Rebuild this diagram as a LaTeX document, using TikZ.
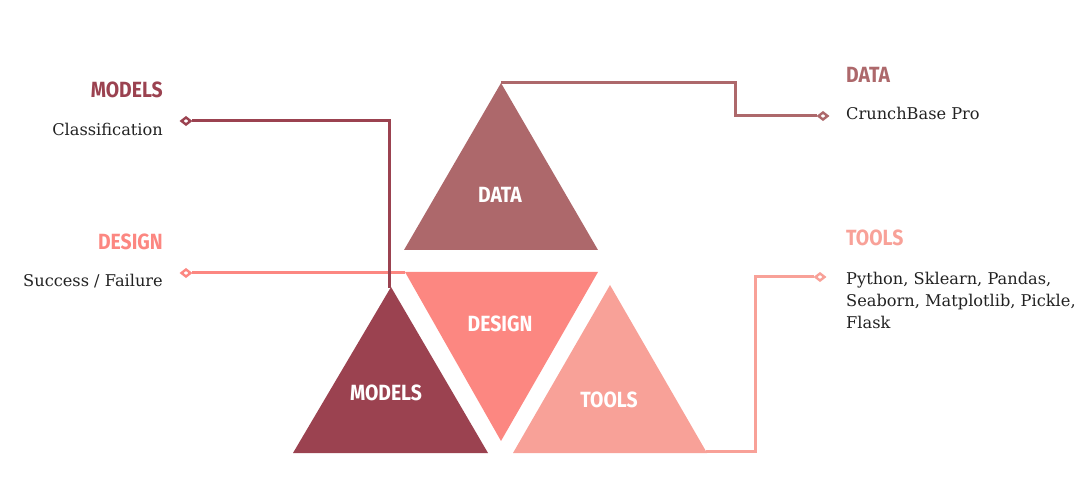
\documentclass[tikz,border=0pt]{standalone}
\usepackage{fontspec}
\setmainfont{DejaVu Serif}
\newfontfamily\hfont[FakeStretch=0.88]{Fira Sans}
\usetikzlibrary{shapes.geometric}
\definecolor{cmod}{HTML}{9B4250}
\definecolor{cdat}{HTML}{AD686B}
\definecolor{cdes}{HTML}{FC8781}
\definecolor{ctoo}{HTML}{F8A198}
\definecolor{ctxt}{HTML}{222222}
\tikzset{
  conn/.style={line width=3pt},
  endmark/.style={diamond, draw, fill=white, line width=2.4pt, inner sep=0pt, minimum width=10pt, minimum height=8pt},
  head/.style={font=\hfont\bfseries\fontsize{22}{26}\selectfont},
  tri/.style={font=\hfont\bfseries\fontsize{22}{26}\selectfont, text=white},
  body/.style={font=\fontsize{16.2}{22}\selectfont, text=ctxt, inner sep=0pt},
}
\begin{document}
\begin{tikzpicture}[x=1pt,y=-1pt]
\useasboundingbox (0,0) rectangle (1092,494);
% triangle corners
\coordinate (dA) at (501,83);  \coordinate (dL) at (404,250); \coordinate (dR) at (598,250);
\coordinate (eL) at (405,272); \coordinate (eR) at (598,272); \coordinate (eB) at (501,441);
\coordinate (mA) at (391,287); \coordinate (mL) at (293,453); \coordinate (mR) at (488,453);
\coordinate (tA) at (610,285); \coordinate (tL) at (513,453); \coordinate (tR) at (707,453);
\fill[cdat] (dA) -- (dL) -- (dR) -- cycle;
\fill[cdes] (eL) -- (eR) -- (eB) -- cycle;
\fill[cmod] (mA) -- (mL) -- (mR) -- cycle;
\fill[ctoo] (tA) -- (tL) -- (tR) -- cycle;
% triangle labels
\node[tri] (ldata) at (500,195) {DATA};
\node[tri] (ldesign) at (500,324) {DESIGN};
\node[tri] (lmodels) at (386,393) {MODELS};
\node[tri] (ltools) at (609,400) {TOOLS};
% end marks
\node[endmark, draw=cmod] (mdia) at (186,121) {};
\node[endmark, draw=cdes] (edia) at (186,273) {};
\node[endmark, draw=cdat] (ddia) at (823,116) {};
\node[endmark, draw=ctoo] (tdia) at (820,277) {};
% connectors
\coordinate (eStart) at (405,273);
\draw[conn, cdes] (eStart) -- (edia);
\coordinate (mStart) at (389,288);
\draw[conn, cmod] (mStart) |- (mdia);
\coordinate (dStart) at (501,83);
\coordinate (dTurn) at (735,83);
\draw[conn, cdat] (dStart) -- (dTurn) |- (ddia);
\coordinate (tStart) at (706,451);
\coordinate (tTurn) at (755,451);
\draw[conn, ctoo] (tStart) -- (tTurn) |- (tdia);
% left texts
\node[head, text=cmod, anchor=east, inner sep=0pt] (hmod) at (163,90) {MODELS};
\node[body, anchor=east] (bmod) at (163,129) {Classification};
\node[head, text=cdes, anchor=east, inner sep=0pt] (hdes) at (163,242) {DESIGN};
\node[body, anchor=east] (bdes) at (163,281) {Success / Failure};
% right texts
\node[head, text=cdat, anchor=west, inner sep=0pt] (hdat) at (846,75) {DATA};
\node[body, anchor=west] (bdat) at (846,113) {CrunchBase Pro};
\node[head, text=ctoo, anchor=west, inner sep=0pt] (htoo) at (846,238) {TOOLS};
\node[body, anchor=north west, align=left] (btoo) at (846,272) {Python, Sklearn, Pandas,\\Seaborn, Matplotlib, Pickle,\\Flask};
\end{tikzpicture}
\end{document}
